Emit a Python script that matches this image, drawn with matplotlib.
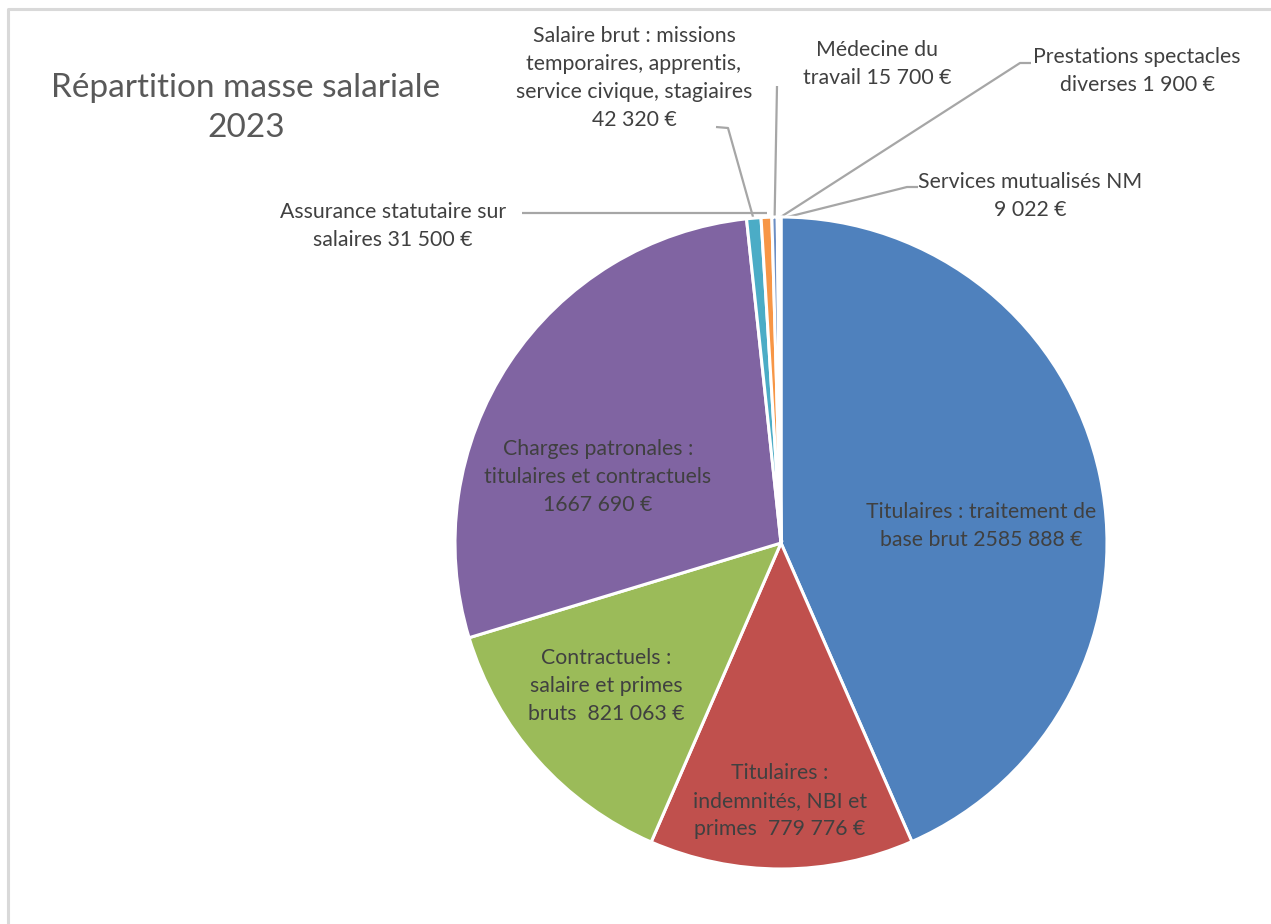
import numpy as np
import matplotlib
matplotlib.use("Agg")
import matplotlib.pyplot as plt

plt.rcParams['font.family'] = ['Lato', 'DejaVu Sans']

# postes de la masse salariale 2023 (euros), dans l'ordre du camembert
labels = [
    "Titulaires : traitement de\nbase brut 2585 888 €",
    "Titulaires :\nindemnités, NBI et\nprimes  779 776 €",
    "Contractuels :\nsalaire et primes\nbruts  821 063 €",
    "Charges patronales :\ntitulaires et contractuels\n1667 690 €",
    "Salaire brut : missions\ntemporaires, apprentis,\nservice civique, stagiaires\n42 320 €",
    "Assurance statutaire sur\nsalaires 31 500 €",
    "Médecine du\ntravail 15 700 €",
    "Prestations spectacles\ndiverses 1 900 €",
    "Services mutualisés NM\n9 022 €",
]
values = [2585888, 779776, 821063, 1667690, 42320, 31500, 15700, 1900, 9022]
colors = ["#4F81BD", "#C0504D", "#9BBB59", "#8064A2", "#4BACC6",
          "#F79646", "#6D8FC4", "#772C2A", "#5F7530"]

W, H = 1271, 924
fig = plt.figure(figsize=(W / 100, H / 100), dpi=100)
ax = fig.add_axes([0, 0, 1, 1])


def Y(y):
    # coordonnées pixel, origine en haut
    return H - y


cx, cy, R = 781, 543, 326
wedges, _ = ax.pie(values, center=(cx, Y(cy)), radius=R, colors=colors,
                   startangle=90, counterclock=False,
                   wedgeprops=dict(edgecolor="white", linewidth=2.2))
ax.set_xlim(0, W)
ax.set_ylim(0, H)
ax.set_aspect("equal")
ax.axis("off")

txt = "#404040"
fs = 15.3
ls = 1.5

# étiquettes dans les parts
inside = {0: (981, 526), 1: (780, 801), 2: (606, 686), 3: (598, 477)}
for i, (x, y) in inside.items():
    ax.text(x, Y(y), labels[i], ha="center", va="center", fontsize=fs,
            color=txt, linespacing=ls)

# étiquettes extérieures avec lignes de rappel
outside = {
    4: ((634, 78), [(716, 127), (728, 128)]),
    5: ((393, 226), [(522, 213)]),
    6: ((877, 64), [(777, 86)]),
    7: ((1137, 71), [(1031, 63), (1020, 63)]),
    8: ((1030, 196), [(918, 187), (907, 187)]),
}
for i, ((x, y), pts) in outside.items():
    ax.text(x, Y(y), labels[i], ha="center", va="center", fontsize=fs,
            color=txt, linespacing=ls)
    w = wedges[i]
    mid = np.deg2rad((w.theta1 + w.theta2) / 2)
    ex = cx + (R - 2) * np.cos(mid)
    ey = Y(cy) + (R - 2) * np.sin(mid)
    xs = [p[0] for p in pts] + [ex]
    ys = [Y(p[1]) for p in pts] + [ey]
    if i == 5:
        ys[-1] = ys[0]
    ax.plot(xs, ys, color="#A6A6A6", lw=1.6, solid_capstyle="butt", zorder=0.5)

ax.text(246, Y(108), "Répartition masse salariale\n2023", ha="center",
        va="center", fontsize=24, color="#595959", linespacing=1.42)

# cadre du graphique
ax.plot([8, 8, W], [0, Y(9), Y(9)], color="#D9D9D9", lw=2.2,
        solid_capstyle="butt")

fig.savefig("out.png", dpi=100)
